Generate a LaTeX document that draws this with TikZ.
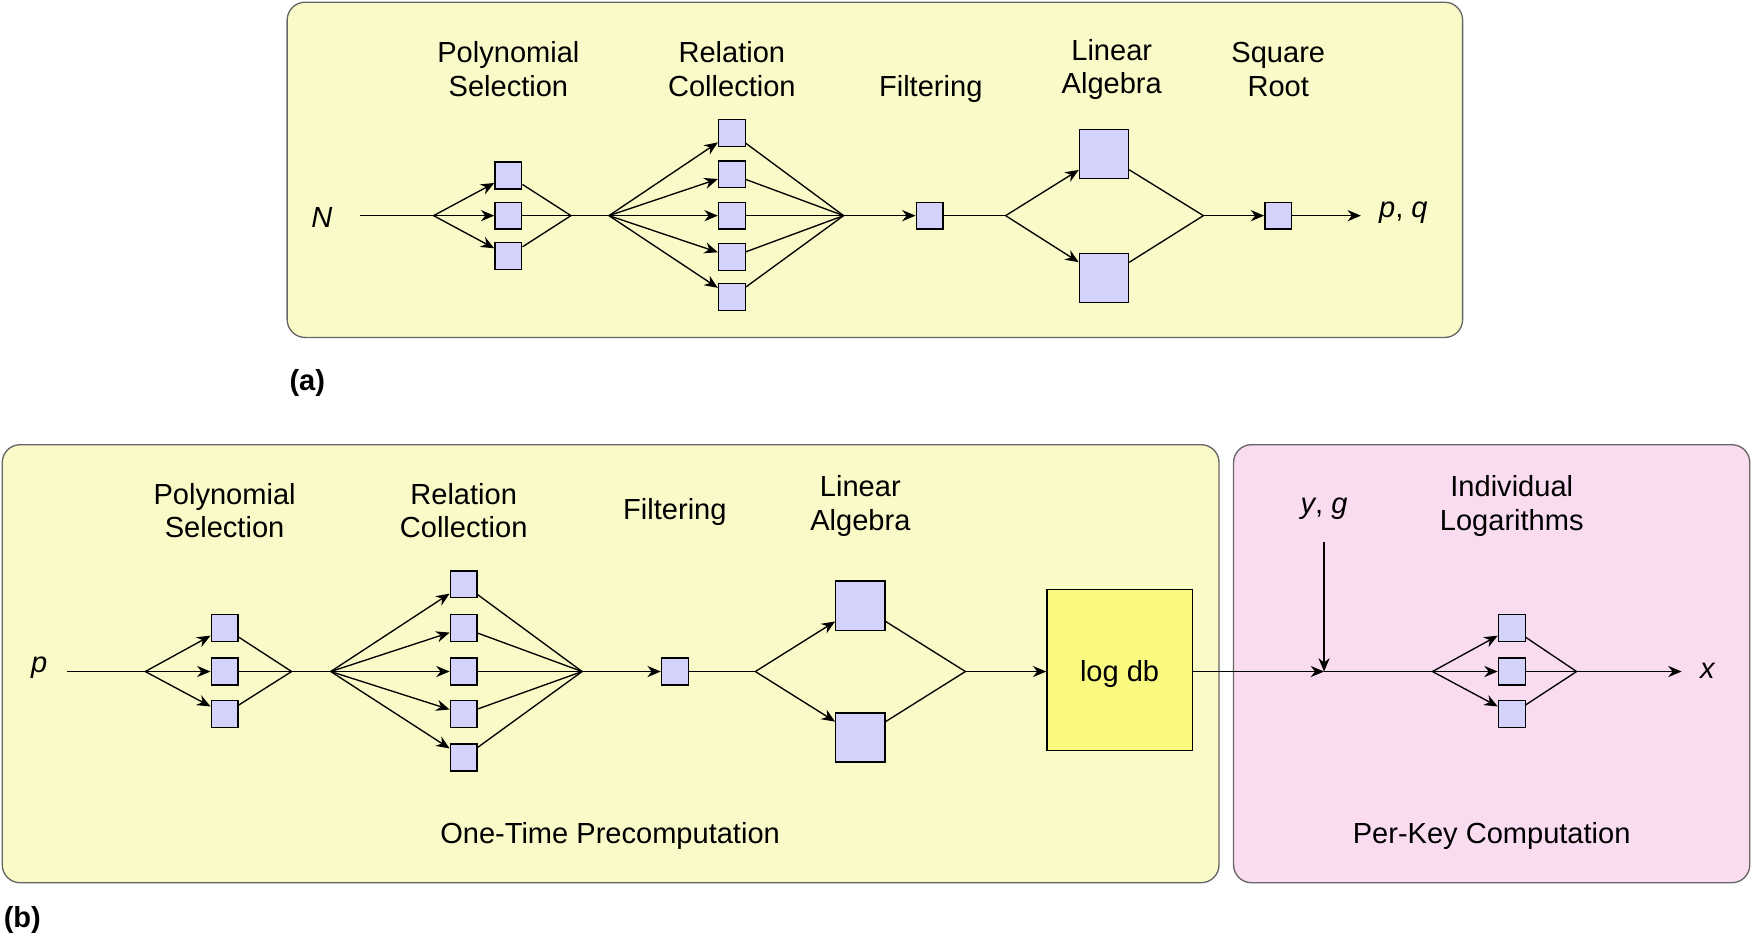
\documentclass[tikz,border=0pt]{standalone}
\usepackage{fontspec}
\setmainfont{Liberation Sans}
\usetikzlibrary{shapes.geometric,arrows.meta}
\definecolor{ylw}{HTML}{FAFAC8}
\definecolor{pnk}{HTML}{FADCF0}
\definecolor{bx}{HTML}{D2D2FA}
\definecolor{cyl}{HTML}{FAFA80}
\begin{document}
\begin{tikzpicture}[x=0.5pt,y=-0.5pt,
  every node/.style={font=\fontsize{13}{15}\selectfont},
  panel/.style={draw=black!60,rounded corners=8pt,line width=0.6pt},
  sb/.style={draw,fill=bx,minimum size=12pt,inner sep=0pt},
  bb/.style={draw,fill=bx,minimum size=22pt,inner sep=0pt},
  lab/.style={align=center},
  ar/.style={-{Stealth[length=6pt,width=5pt]}},
  ln/.style={line width=0.6pt}]
\useasboundingbox (0,0) rectangle (1568,840);
\begin{scope}[ln]
% panel a
\draw[panel,fill=ylw] (257,2) rectangle (1309,302);
\node[lab] at (455,62) {Polynomial\\Selection};
\node[lab] at (655,62) {Relation\\Collection};
\node at (833,80) {Filtering};
\node[lab] at (995,62) {Linear\\Algebra};
\node[lab] at (1144,62) {Square\\Root};
\node (N) at (288,195) {\itshape N};
\coordinate (s1) at (388,193); \coordinate (m1) at (511,193);
\coordinate (s2) at (545,193); \coordinate (m2) at (755,193);
\coordinate (s3) at (900,193); \coordinate (m3) at (1077,193);
\coordinate (e) at (1218,193);
\node (pq) at (1256,190) {\itshape p\upshape, \itshape q};
\draw (322,193) -- (s1);
\foreach \y [count=\i] in {157,193,229}{
  \node[sb] (a\i) at (455,\y) {};
  \draw[ar] (s1) -- (a\i); \draw (a\i) -- (m1);}
\draw (m1) -- (s2);
\foreach \y [count=\i] in {119,156,193,230,266}{
  \node[sb] (b\i) at (655,\y) {};
  \draw[ar] (s2) -- (b\i); \draw (b\i) -- (m2);}
\node[sb] (f) at (832,193) {};
\draw[ar] (m2) -- (f); \draw (f) -- (s3);
\node[bb] (l1) at (988,138) {}; \node[bb] (l2) at (988,249) {};
\draw[ar] (s3) -- (l1); \draw[ar] (s3) -- (l2);
\draw (l1) -- (m3); \draw (l2) -- (m3);
\node[sb] (sr) at (1144,193) {};
\draw[ar] (m3) -- (sr); \draw[ar] (sr) -- (e);
\node[font=\fontsize{13}{15}\selectfont\bfseries] (la) at (275,343) {(a)};
% panel b
\draw[panel,fill=ylw] (2,398) rectangle (1091,790);
\draw[panel,fill=pnk] (1104,398) rectangle (1566,790);
\node[lab] at (201,457) {Polynomial\\Selection};
\node[lab] at (415,457) {Relation\\Collection};
\node at (604,458) {Filtering};
\node[lab] at (770,453) {Linear\\Algebra};
\node[lab] at (1353,453) {Individual\\Logarithms};
\node at (546,748) {One-Time Precomputation};
\node at (1335,748) {Per-Key Computation};
\node (p) at (35,598) {\itshape p};
\coordinate (t1) at (130,601); \coordinate (n1) at (261,601);
\coordinate (t2) at (296,601); \coordinate (n2) at (521,601);
\coordinate (t3) at (676,601); \coordinate (n3) at (864,601);
\coordinate (j) at (1185,601); \coordinate (t4) at (1282,601); \coordinate (n4) at (1411,601);
\coordinate (xe) at (1505,601);
\draw (60,601) -- (t1);
\foreach \y [count=\i] in {562,601,639}{
  \node[sb] (c\i) at (201,\y) {};
  \draw[ar] (t1) -- (c\i); \draw (c\i) -- (n1);}
\draw (n1) -- (t2);
\foreach \y [count=\i] in {523,562,601,639,678}{
  \node[sb] (d\i) at (415,\y) {};
  \draw[ar] (t2) -- (d\i); \draw (d\i) -- (n2);}
\node[sb] (g) at (604,601) {};
\draw[ar] (n2) -- (g); \draw (g) -- (t3);
\node[bb] (k1) at (770,542) {}; \node[bb] (k2) at (770,660) {};
\draw[ar] (t3) -- (k1); \draw[ar] (t3) -- (k2);
\draw (k1) -- (n3); \draw (k2) -- (n3);
\node[draw,fill=cyl,cylinder,shape border rotate=90,aspect=0.25,minimum width=65pt,minimum height=72pt,inner sep=0pt] (db) at (1002,600) {};
\node at (1002,603) {log db};
\draw[ar] (n3) -- (db.west|-n3);
\draw[ar] (db.east|-j) -- (j);
\node (yg) at (1185,455) {\itshape y\upshape, \itshape g};
\draw[ar] (1185,485) -- (j);
\draw (j) -- (t4);
\foreach \y [count=\i] in {562,601,639}{
  \node[sb] (h\i) at (1353,\y) {};
  \draw[ar] (t4) -- (h\i); \draw (h\i) -- (n4);}
\draw[ar] (n4) -- (xe);
\node (x) at (1528,600) {\itshape x};
\node[font=\fontsize{13}{15}\selectfont\bfseries] (lb) at (20,823) {(b)};
\end{scope}
\end{tikzpicture}
\end{document}
